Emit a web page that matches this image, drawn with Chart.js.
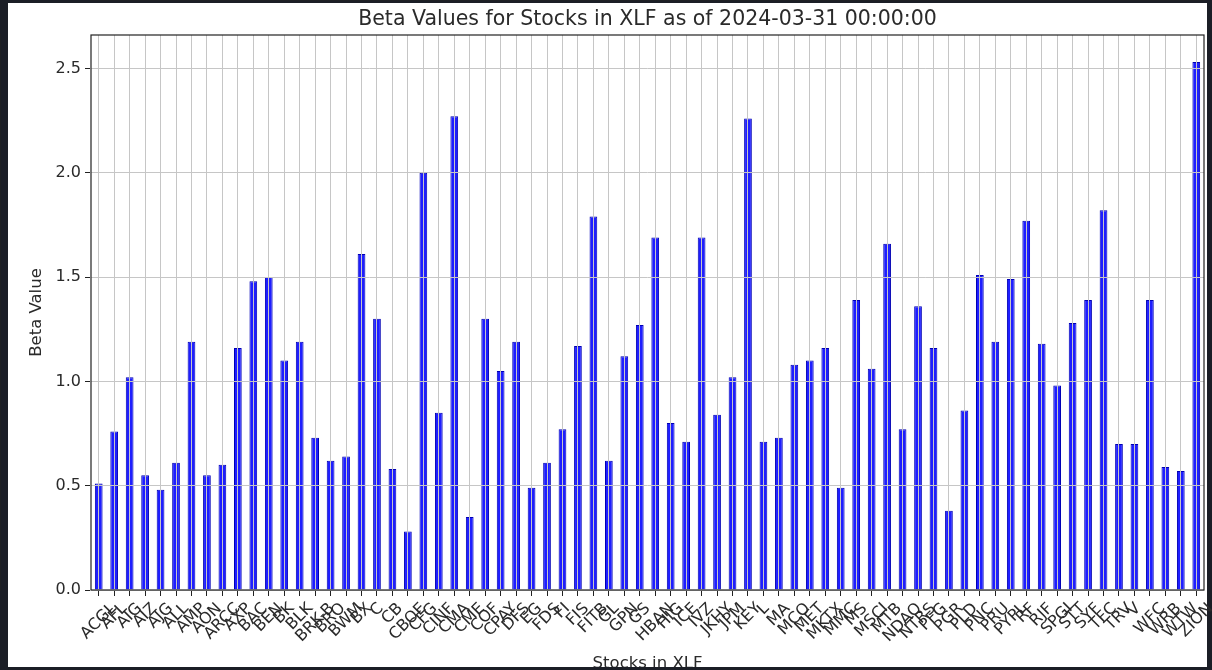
<!DOCTYPE html>
<html>
<head>
<meta charset="utf-8">
<title>Beta Values for Stocks in XLF</title>
<script src="https://cdn.jsdelivr.net/npm/chart.js@4.4.1/dist/chart.umd.min.js"></script>
<style>
  html, body { margin: 0; padding: 0; background: #1b1e26; }
  #wrap { width: 1212px; height: 670px; }
</style>
</head>
<body>
<div id="wrap"><canvas id="betaChart" width="1212" height="670"></canvas></div>
<script>
// tickers in XLF (x axis)
const tickers = [
  'ACGL', 'AFL', 'AIG', 'AIZ', 'AJG', 'ALL', 'AMP', 'AON', 'ARCC', 'AXP',
  'BAC', 'BEN', 'BK', 'BLK', 'BRK-B', 'BRO', 'BWM', 'BX', 'C', 'CB',
  'CBOE', 'CFG', 'CINF', 'CMA', 'CME', 'COF', 'CPAY', 'DFS', 'EG', 'FDS',
  'FI', 'FIS', 'FITB', 'GL', 'GPN', 'GS', 'HBAN', 'HIG', 'ICE', 'IVZ',
  'JKHY', 'JPM', 'KEY', 'L', 'MA', 'MCO', 'MET', 'MKTX', 'MMC', 'MS',
  'MSCI', 'MTB', 'NDAQ', 'NTRS', 'PFG', 'PGR', 'PLD', 'PNC', 'PRU', 'PYPL',
  'RF', 'RJF', 'SPGI', 'STT', 'SYF', 'TFC', 'TRV', 'V', 'WFC', 'WRB',
  'WTW', 'ZION'
];

// beta per ticker
const betas = [
  0.51, 0.76, 1.02, 0.55, 0.48, 0.61, 1.19, 0.55, 0.60, 1.16,
  1.48, 1.50, 1.10, 1.19, 0.73, 0.62, 0.64, 1.61, 1.30, 0.58,
  0.28, 2.00, 0.85, 2.27, 0.35, 1.30, 1.05, 1.19, 0.49, 0.61,
  0.77, 1.17, 1.79, 0.62, 1.12, 1.27, 1.69, 0.80, 0.71, 1.69,
  0.84, 1.02, 2.26, 0.71, 0.73, 1.08, 1.10, 1.16, 0.49, 1.39,
  1.06, 1.66, 0.77, 1.36, 1.16, 0.38, 0.86, 1.51, 1.19, 1.49,
  1.77, 1.18, 0.98, 1.28, 1.39, 1.82, 0.70, 0.70, 1.39, 0.59,
  0.57, 2.53
];

const chartTitle = 'Beta Values for Stocks in XLF as of 2024-03-31 00:00:00';
const xLabel = 'Stocks in XLF';
const yLabel = 'Beta Value';

const FONT = "'DejaVu Sans', sans-serif";
const TEXT = '#2a2a2a';
const DARK = '#1b1e26';
const GRID = '#c6c6c6';

// white figure on dark page + matplotlib style tick labels / spines
const figurePlugin = {
  id: 'figure',
  beforeDraw(chart) {
    const c = chart.ctx;
    c.save();
    c.fillStyle = DARK;
    c.fillRect(0, 0, chart.width, chart.height);
    c.fillStyle = '#fff';
    c.fillRect(8, 3, 1199, 664);
    c.restore();
  },
  afterDraw(chart) {
    const c = chart.ctx;
    const a = chart.chartArea;
    const xs = chart.scales.x;

    // rotated labels centred under the tick (ha=center)
    c.save();
    c.font = '16px ' + FONT;
    c.fillStyle = TEXT;
    c.textAlign = 'center';
    c.textBaseline = 'middle';
    xs.ticks.forEach((t, i) => {
      const lbl = xs.getLabelForValue(t.value);
      const w = c.measureText(lbl).width;
      const half = (w + 17) * Math.SQRT1_2 / 2;
      c.save();
      c.translate(xs.getPixelForTick(i), a.bottom + 10 + half);
      c.rotate(-Math.PI / 4);
      c.fillText(lbl, 0, 0);
      c.restore();
    });

    // all four spines
    c.strokeStyle = '#222';
    c.lineWidth = 1.2;
    c.strokeRect(a.left, a.top, a.right - a.left, a.bottom - a.top);

    // the dark strip cuts the x title at the bottom
    c.fillStyle = DARK;
    c.fillRect(0, 667, chart.width, 3);
    c.restore();
  }
};

new Chart(document.getElementById('betaChart'), {
  type: 'bar',
  data: {
    labels: tickers,
    datasets: [{
      label: 'Beta',
      data: betas,
      backgroundColor: '#1e1eff',
      borderColor: '#0000b4',
      borderWidth: 1,
      barPercentage: 0.5,
      categoryPercentage: 1
    }]
  },
  options: {
    responsive: false,
    animation: false,
    layout: { padding: { left: 8, right: 8, top: 0, bottom: 0 } },
    plugins: {
      legend: { display: false },
      tooltip: { enabled: false },
      title: {
        display: true,
        fullSize: false,
        text: chartTitle,
        color: TEXT,
        font: { family: FONT, size: 20.5, weight: 'normal' },
        padding: { top: 7, bottom: 3.4 }
      }
    },
    scales: {
      x: {
        offset: true,
        grid: { offset: false, z: 1, color: GRID, lineWidth: 1, tickColor: '#222', tickLength: 6 },
        border: { color: '#222', width: 1.2 },
        ticks: { display: false, autoSkip: false },
        title: {
          display: true,
          text: xLabel,
          color: TEXT,
          font: { family: FONT, size: 16.5 },
          padding: { top: 0, bottom: -4 }
        },
        afterFit: s => { s.height = 80; }
      },
      y: {
        min: 0,
        max: 2.66,
        grid: { z: 1, color: GRID, lineWidth: 1, tickColor: '#222', tickLength: 6 },
        border: { color: '#222', width: 1.2 },
        ticks: {
          stepSize: 0.5,
          includeBounds: false,
          padding: 4,
          color: TEXT,
          font: { family: FONT, size: 16 },
          callback: v => v.toFixed(1)
        },
        title: {
          display: true,
          text: yLabel,
          color: TEXT,
          font: { family: FONT, size: 16.5 },
          padding: { top: 19, bottom: 0 }
        },
        afterFit: s => { s.width = 83; }
      }
    }
  },
  plugins: [figurePlugin]
});
</script>
</body>
</html>
